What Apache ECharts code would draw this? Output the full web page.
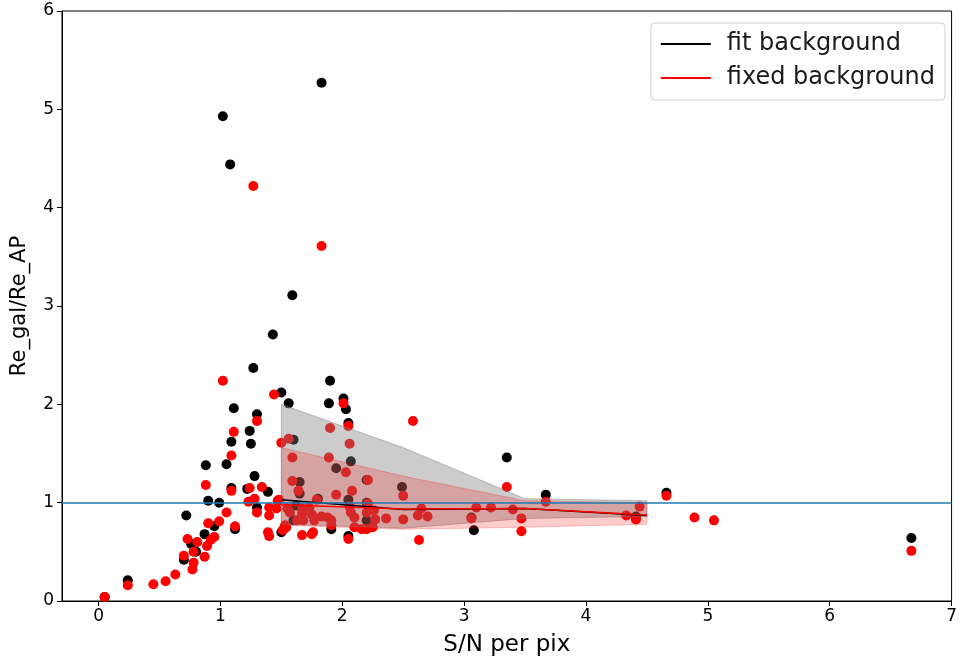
<!DOCTYPE html>
<html>
<head>
<meta charset="utf-8">
<script src="https://cdn.jsdelivr.net/npm/echarts@6/dist/echarts.min.js"></script>
<style>html,body{margin:0;padding:0;background:#fff}#c{width:960px;height:662px}</style>
</head>
<body>
<div id="c"></div>
<script>
// fit background points [S/N, ratio]
var fitPoints = [
[0.05,0.04],[0.24,0.21],[0.70,0.42],[0.72,0.87],[0.76,0.58],[0.80,0.50],[0.87,0.68],[0.95,0.76],
[0.88,1.38],[0.90,1.02],[0.99,1.00],[1.02,4.93],[1.08,4.44],[1.11,1.96],[1.09,1.62],[1.05,1.39],
[1.09,1.15],[1.12,0.73],[1.24,1.73],[1.25,1.60],[1.30,1.90],[1.28,1.27],[1.22,1.14],[1.30,0.95],
[1.27,2.37],[1.39,1.11],[1.43,2.71],[1.50,2.12],[1.56,2.01],[1.59,3.11],[1.60,1.64],[1.50,0.70],
[1.65,1.21],[1.65,1.09],[1.62,0.97],[1.60,0.82],[1.80,1.04],[1.83,5.27],[1.89,2.01],[1.90,2.24],
[2.01,2.06],[2.03,1.95],[2.05,1.81],[2.07,1.42],[1.95,1.35],[2.05,1.03],[2.20,1.00],[2.20,0.82],
[1.91,0.73],[2.05,0.66],[2.20,1.23],[2.49,1.16],[3.35,1.46],[3.06,0.85],[3.08,0.72],[3.67,1.08],
[4.41,0.86],[4.66,1.10],[6.67,0.64]
];
// fixed background points [S/N, ratio]
var fixedPoints = [
[0.05,0.04],[0.24,0.16],[0.45,0.17],[0.55,0.20],[0.63,0.27],[0.70,0.46],[0.73,0.63],[0.78,0.50],
[0.78,0.39],[0.77,0.32],[0.81,0.60],[0.87,0.45],[0.89,0.56],[0.92,0.62],[0.95,0.65],[0.90,0.79],
[0.99,0.81],[1.05,0.90],[0.88,1.18],[1.02,2.24],[1.11,1.72],[1.09,1.48],[1.09,1.12],[1.12,0.76],
[1.30,1.83],[1.24,1.15],[1.23,1.01],[1.28,1.04],[1.30,0.90],[1.34,1.16],[1.27,4.22],[1.83,3.61],
[1.40,0.95],[1.40,0.87],[1.47,1.02],[1.39,0.70],[1.40,0.66],[1.44,2.10],[1.51,0.72],[1.54,0.75],
[1.50,1.61],[1.56,1.65],[1.59,1.46],[1.59,1.22],[1.64,1.12],[1.48,1.03],[1.46,0.94],[1.55,0.94],
[1.57,0.90],[1.67,0.94],[1.67,0.89],[1.73,0.95],[1.75,0.88],[1.63,0.82],[1.68,0.82],[1.77,0.82],
[1.79,1.03],[1.83,0.86],[1.88,0.85],[1.91,0.82],[1.91,0.77],[1.76,0.70],[1.67,0.67],[1.75,0.68],
[1.52,0.73],[1.53,0.77],[1.90,1.76],[1.89,1.46],[2.01,2.01],[2.05,1.78],[2.06,1.60],[2.03,1.31],
[2.21,1.23],[2.08,1.12],[1.95,1.08],[2.06,0.96],[2.21,0.99],[2.07,0.90],[2.10,0.85],[2.20,0.90],
[2.27,0.83],[2.36,0.84],[2.10,0.75],[2.16,0.73],[2.20,0.73],[2.25,0.75],[2.05,0.63],[2.50,1.07],
[2.58,1.83],[2.50,0.83],[2.62,0.87],[2.65,0.94],[2.70,0.86],[2.63,0.62],[2.26,0.92],[3.06,0.84],
[3.10,0.95],[3.22,0.95],[3.35,1.16],[3.40,0.93],[3.47,0.84],[3.47,0.71],[3.67,1.01],[4.33,0.87],
[4.41,0.83],[4.44,0.96],[4.66,1.07],[4.89,0.85],[5.05,0.82],[6.67,0.51]
];
// binned running values
var binX = [1.5, 2.5, 3.5, 4.5];
var fitMean = [1.03, 0.93, 0.94, 0.87];
var fitLow = [0.78, 0.74, 0.84, 0.86];
var fitHigh = [2.00, 1.56, 1.04, 1.02];
var fixedMean = [0.98, 0.935, 0.94, 0.875];
var fixedLow = [0.77, 0.73, 0.75, 0.78];
var fixedHigh = [1.56, 1.27, 1.02, 1.00];
var xTicks = [0,1,2,3,4,5,6,7];
var refLine = 1;

function pairs(xs, ys){ return xs.map(function(x,i){ return [x, ys[i]]; }); }
function bandSeries(name, xs, lo, hi, fill, edge){
  return {
    name: name, type: 'custom', data: [[xs[0], lo[0]]], z: 3, silent: true, clip: false,
    renderItem: function(params, api){
      var pts = [], i;
      for (i = 0; i < xs.length; i++) pts.push(api.coord([xs[i], hi[i]]));
      for (i = xs.length - 1; i >= 0; i--) pts.push(api.coord([xs[i], lo[i]]));
      return {type: 'polygon', shape: {points: pts}, style: {fill: fill, stroke: edge, lineWidth: 1}};
    }
  };
}

var FONT = 'DejaVu Sans';
var chart = echarts.init(document.getElementById('c'), null, {renderer:'canvas'});
chart.setOption({
  animation: false,
  backgroundColor: '#fff',
  textStyle: {fontFamily: FONT},
  grid: {left: 62, right: 5, top: 11, bottom: 60, show: true, borderColor: '#000', borderWidth: 1, backgroundColor: 'transparent'},
  legend: {
    data: ['fit background', 'fixed background'],
    orient: 'vertical', right: 15, top: 23,
    icon: 'path://M0,0L100,0L100,4L0,4Z',
    itemWidth: 50, itemHeight: 2, itemGap: 10,
    padding: [9, 10, 10, 10],
    backgroundColor: '#fff', borderColor: '#d0d0d0', borderWidth: 1, borderRadius: 4,
    textStyle: {fontSize: 24, lineHeight: 24, color: '#1a1a1a', fontFamily: FONT, padding: [0, 0, 0, 11]}
  },
  xAxis: {
    type: 'value', min: -0.3, max: 7.0,
    name: 'S/N per pix', nameLocation: 'middle', nameGap: 33,
    nameTextStyle: {fontSize: 23, color: '#000', fontFamily: FONT},
    axisLine: {show: true, onZero: false, lineStyle: {color: '#000', width: 1}},
    axisTick: {show: true, inside: false, length: 5, lineStyle: {color: '#000'}, customValues: xTicks},
    axisLabel: {fontSize: 17, color: '#000', margin: 7, fontFamily: FONT, customValues: xTicks},
    splitLine: {show: false}
  },
  yAxis: {
    type: 'value', min: 0, max: 6, interval: 1,
    name: 'Re_gal/Re_AP', nameLocation: 'middle', nameGap: 32,
    nameTextStyle: {fontSize: 21, color: '#000', fontFamily: FONT},
    axisLine: {show: true, onZero: false, lineStyle: {color: '#000', width: 1}},
    axisTick: {show: true, inside: false, length: 5, lineStyle: {color: '#000'}},
    axisLabel: {fontSize: 17, color: '#000', margin: 8, fontFamily: FONT},
    splitLine: {show: false}
  },
  series: [
    {name: 'fitPts', type: 'scatter', data: fitPoints, symbolSize: 10, itemStyle: {color: '#000', opacity: 1}, z: 2, silent: true},
    {name: 'fixedPts', type: 'scatter', data: fixedPoints, symbolSize: 10, itemStyle: {color: '#ff0000', opacity: 1}, z: 2, silent: true},
    bandSeries('fitBand', binX, fitLow, fitHigh, 'rgba(128,128,128,0.4)', 'rgba(128,128,128,0.45)'),
    bandSeries('fixedBand', binX, fixedLow, fixedHigh, 'rgba(255,0,0,0.2)', 'rgba(255,0,0,0.22)'),
    {name: 'fit background', type: 'line', data: pairs(binX, fitMean), symbol: 'none', lineStyle: {color: '#000', width: 1.5}, itemStyle: {color: '#000'}, z: 4, silent: true},
    {name: 'fixed background', type: 'line', data: pairs(binX, fixedMean), symbol: 'none', lineStyle: {color: '#ff0000', width: 1.5}, itemStyle: {color: '#ff0000'}, z: 4, silent: true,
      markLine: {silent: true, symbol: 'none', label: {show: false}, lineStyle: {color: '#1f77b4', width: 1.5, type: 'solid'}, data: [{yAxis: refLine}], z: 5}}
  ]
});
</script>
</body>
</html>
